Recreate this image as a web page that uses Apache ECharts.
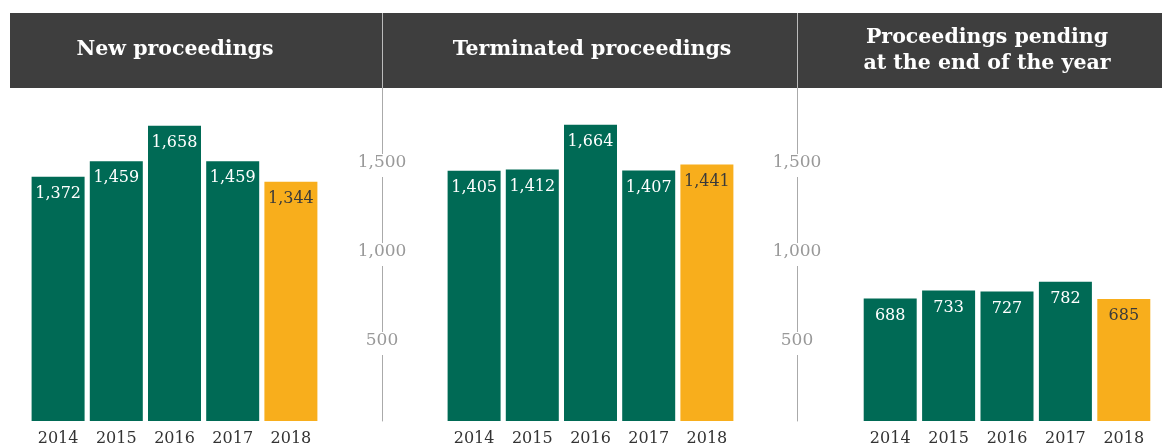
<!DOCTYPE html>
<html>
<head>
<meta charset="utf-8">
<script src="https://cdn.jsdelivr.net/npm/echarts@6/dist/echarts.min.js"></script>
<style>
  html, body { margin: 0; padding: 0; background: #fff; }
  #chart { width: 1162px; height: 448px; }
</style>
</head>
<body>
<div id="chart"></div>
<script>
var years = ['2014', '2015', '2016', '2017', '2018'];
var newProceedings = [1372, 1459, 1658, 1459, 1344];
var terminatedProceedings = [1405, 1412, 1664, 1407, 1441];
var pendingProceedings = [688, 733, 727, 782, 685];
var panelTitles = ['New proceedings', 'Terminated proceedings', 'Proceedings pending\nat the end of the year'];

var GREEN = '#006a55';
var ORANGE = '#f8ae1c';
var SERIF = 'DejaVu Serif';

function fmt(v) {
	return String(v).replace(/\B(?=(\d{3})+(?!\d))/g, ',');
}

// last year is highlighted in orange
function barData(values) {
	return values.map(function(v, i) {
		var last = i === values.length - 1;
		return {
			value: v,
			itemStyle: { color: last ? ORANGE : GREEN },
			label: { color: last ? '#3a3a3a' : '#fff' }
		};
	});
}

var grids = [
	{ left: 29, width: 291, top: 88, bottom: 27 },
	{ left: 445, width: 291, top: 88, bottom: 27 },
	{ left: 861, width: 292, top: 88, bottom: 27 }
];
var axisOffsets = [0, 63, 64];
var seriesValues = [newProceedings, terminatedProceedings, pendingProceedings];
var titleX = [170, 587, 982];

var xAxes = [], yAxes = [], series = [], titles = [];
for (var i = 0; i < 3; i++) {
	xAxes.push({
		gridIndex: i,
		type: 'category',
		data: years,
		axisLine: { show: false },
		axisTick: { show: false },
		axisLabel: { color: '#333', fontFamily: SERIF, fontSize: 16, margin: 10 }
	});
	yAxes.push({
		gridIndex: i,
		type: 'value',
		show: i > 0,
		min: 0,
		max: 1870,
		interval: 500,
		position: 'left',
		offset: axisOffsets[i],
		splitLine: { show: false },
		axisTick: { show: false },
		axisLine: { show: true, lineStyle: { color: '#aaa', width: 1 } },
		axisLabel: {
			showMinLabel: false,
			showMaxLabel: false,
			margin: 0,
			align: 'center',
			verticalAlign: 'top',
			color: '#999',
			fontFamily: SERIF,
			fontSize: 17,
			backgroundColor: '#fff',
			padding: [0, 3, 6, 3],
			formatter: function(v) { return fmt(v); }
		}
	});
	series.push({
		type: 'bar',
		xAxisIndex: i,
		yAxisIndex: i,
		barWidth: 53,
		data: barData(seriesValues[i]),
		label: {
			show: true,
			position: 'insideTop',
			distance: 9,
			fontFamily: SERIF,
			fontSize: 16,
			formatter: function(p) { return fmt(p.value); }
		}
	});
	titles.push({
		text: panelTitles[i],
		left: titleX[i],
		top: i === 2 ? 20 : 32,
		textAlign: 'center',
		textStyle: {
			color: '#fff',
			fontFamily: SERIF,
			fontWeight: 'bold',
			fontSize: 20.5,
			lineHeight: 26
		}
	});
}

var myChart = echarts.init(document.getElementById('chart'));
myChart.setOption({
	backgroundColor: '#fff',
	animation: false,
	title: titles,
	grid: grids,
	xAxis: xAxes,
	yAxis: yAxes,
	series: series,
	graphic: [
		{ type: 'rect', z: -1, shape: { x: 10, y: 13, width: 1152, height: 75 }, style: { fill: '#3e3e3e' } },
		{ type: 'line', shape: { x1: 382.5, y1: 13, x2: 382.5, y2: 88 }, style: { stroke: '#bbb', lineWidth: 1 } },
		{ type: 'line', shape: { x1: 797.5, y1: 13, x2: 797.5, y2: 88 }, style: { stroke: '#bbb', lineWidth: 1 } }
	]
});
</script>
</body>
</html>
